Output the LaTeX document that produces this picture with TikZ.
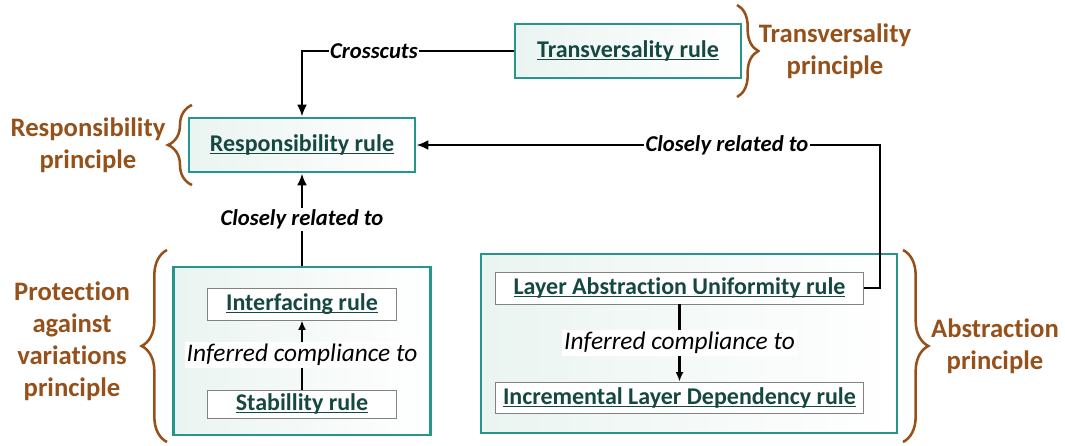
\documentclass[tikz,border=0pt]{standalone}
\usepackage{fontspec}
\setmainfont[Ligatures=NoCommon]{Carlito}
\usetikzlibrary{arrows.meta,decorations.pathreplacing}
\usetikzlibrary{positioning}
\definecolor{tealline}{RGB}{38,150,140}
\definecolor{rulefill}{RGB}{234,244,240}
\definecolor{ruletext}{RGB}{22,72,66}
\definecolor{princbrown}{RGB}{150,80,26}
\definecolor{innerline}{RGB}{130,130,130}
\newcommand{\rulelink}[1]{\setbox0\hbox{#1}\rlap{\rule[-2.2pt]{\wd0}{1.1pt}}\box0}
\tikzset{
rulebox/.style={rectangle,draw=tealline,line width=2pt,
left color=rulefill,right color=white,inner sep=0pt,
text=ruletext,font=\fontsize{18}{22}\selectfont\bfseries},
groupbox/.style={rectangle,draw=tealline,line width=2pt,
left color=rulefill,right color=white},
innerbox/.style={rectangle,draw=innerline,line width=0.7pt,fill=white,inner sep=0pt,
text=ruletext,font=\fontsize{18}{22}\selectfont\bfseries},
principle/.style={text=princbrown,align=center,
font=\fontsize{20}{24}\selectfont\bfseries},
pbrace/.style={draw=princbrown,line width=1.9pt,decorate,
decoration={brace,amplitude=#1}},
pbrace/.default=17pt,
relation/.style={draw,line width=2pt,-{Latex[length=9pt,width=7.5pt]}},
relabel/.style={fill=white,inner sep=1pt,font=\fontsize{17}{20}\selectfont\bfseries\itshape},
inferred/.style={draw,line width=1.7pt,-{Latex[length=7pt,width=6pt]}},
inflabel/.style={fill=white,inner sep=1.5pt,font=\fontsize{19}{22}\selectfont\itshape}
}
\begin{document}
\begin{tikzpicture}[x=0.75pt,y=-0.75pt]
\useasboundingbox (0,0) rectangle (1065,446);

% rules
\node[rulebox,minimum width=169.5pt,minimum height=40.5pt] (trans) at (628,51) {\rulelink{Transversality rule}};
\node[rulebox,minimum width=169.5pt,minimum height=40.5pt] (resp) at (302,145) {\rulelink{Responsibility rule}};

% groups
\node[groupbox,minimum width=192.75pt,minimum height=126pt] (protbox) at (302,351) {};
\node[groupbox,minimum width=312pt,minimum height=134.25pt] (abstbox) at (689,343.5) {};

\node[innerbox,minimum width=141.75pt,minimum height=24pt] (iface) at (302,304) {\rulelink{Interfacing rule}};
\node[innerbox,minimum width=141.75pt,minimum height=21pt] (stab) at (302,404) {\rulelink{Stabillity rule}};
\node[innerbox,minimum width=276pt,minimum height=24pt] (lau) at (679.5,288) {\rulelink{Layer Abstraction Uniformity rule}};
\node[innerbox,minimum width=276pt,minimum height=23.25pt] (ild) at (679.5,397.5) {\rulelink{Incremental Layer Dependency rule}};

% connectors
\draw[relation] (trans.west) -| node[relabel,pos=0.33]{Crosscuts} (resp.north);
\coordinate (turn) at (880,288);
\draw[relation] (lau.east) -- (turn) |- node[relabel,pos=0.665]{Closely related to} (resp.east);
\draw[relation] (protbox.north) -- node[relabel]{Closely related to} (resp.south);
\draw[inferred] (stab.north) -- node[inflabel]{Inferred compliance to} (iface.south);
\draw[inferred] (lau.south) -- node[inflabel]{Inferred compliance to} (ild.north);

% principles
\node[principle] (transp) at (835,51) {Transversality\\principle};
\node[principle] (respp) at (88,145) {Responsibility\\principle};
\node[principle] (protp) at (72,341) {Protection\\against\\variations\\principle};
\node[principle] (abstp) at (995,346) {Abstraction\\principle};

\draw[pbrace=16pt] (737,5) -- (737,97);
\draw[pbrace=18pt] (192,185) -- (192,105);
\draw[pbrace=19pt] (167,442) -- (167,250);
\draw[pbrace=19pt] (903,250) -- (903,442);

\end{tikzpicture}
\end{document}
